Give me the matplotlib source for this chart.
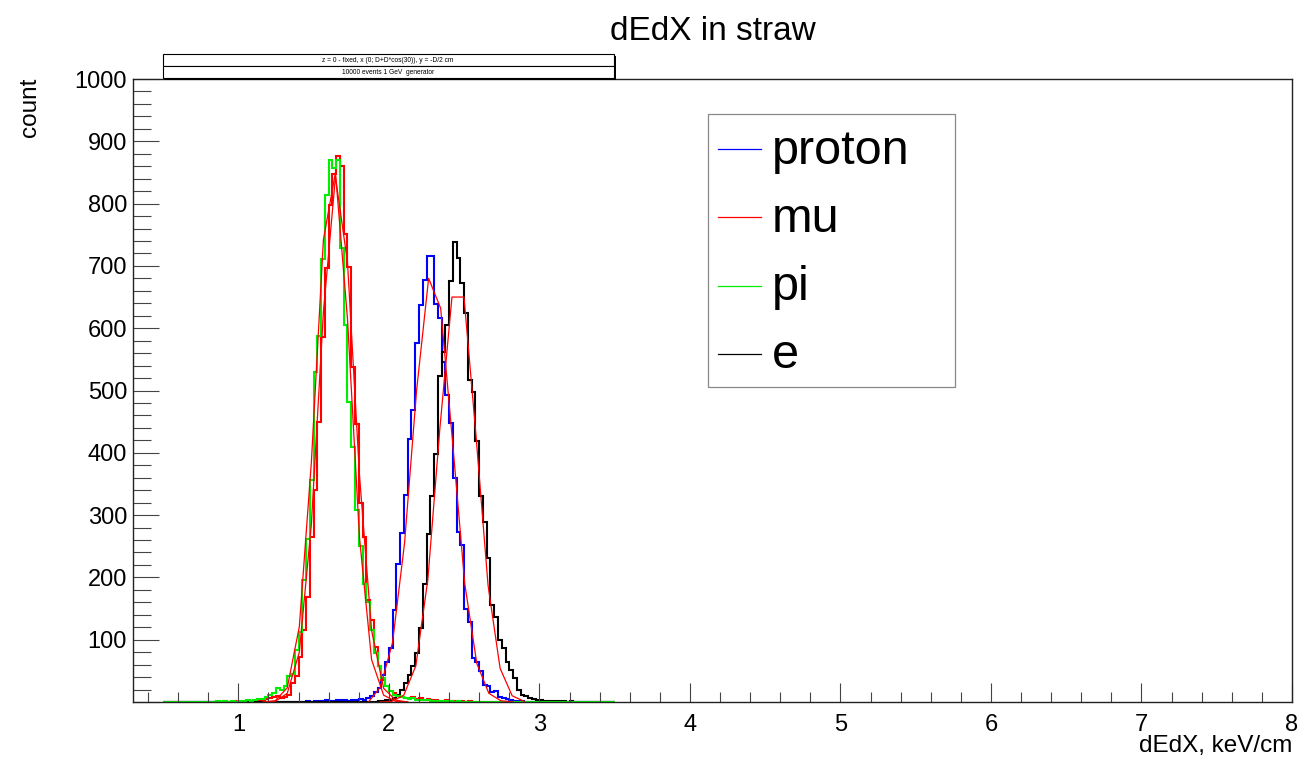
import matplotlib
matplotlib.use("Agg")
import matplotlib.pyplot as plt
import numpy as np
from matplotlib.patches import Rectangle
from matplotlib.lines import Line2D
from matplotlib.ticker import FixedLocator, MultipleLocator

plt.rcParams['font.family'] = ['Liberation Sans', 'DejaVu Sans']

# histogram binning (keV/cm)
bin_width = 0.025
edges = np.round(np.arange(0.5, 3.5 + bin_width / 2, bin_width), 4)

# counts per bin; each list starts at its *_start edge
proton_start = 1.45
proton_counts = [1, 0, 1, 2, 1, 3, 2, 2, 3, 4,
                 3, 2, 3, 4, 5, 4, 6, 10, 16, 23,
                 43, 65, 87, 148, 221, 271, 332, 422, 468, 576,
                 638, 677, 716, 716, 639, 616, 546, 493, 448, 359,
                 273, 252, 150, 129, 70, 65, 49, 27, 25, 16,
                 18, 8, 6, 5, 3, 2, 1, 1]

mu_start = 0.9
mu_counts = [1, 0, 0, 1, 0, 1, 1, 2, 2, 3,
             4, 5, 6, 8, 10, 6, 8, 12, 30, 41,
             73, 116, 169, 265, 340, 450, 586, 696, 798, 848,
             877, 861, 752, 699, 538, 447, 319, 265, 164, 132,
             89, 57, 35, 25, 18, 14, 10, 8, 7, 6,
             8, 5, 6, 4, 5, 3, 4, 2, 2, 3,
             1, 2, 1, 1, 0, 1]

pi_start = 0.85
pi_counts = [1, 0, 2, 0, 1, 0, 2, 1, 3, 2,
             4, 5, 5, 8, 12, 14, 22, 20, 25, 41,
             45, 83, 113, 196, 262, 356, 530, 588, 711, 814,
             870, 857, 870, 728, 605, 482, 410, 308, 250, 190,
             161, 116, 78, 57, 38, 25, 18, 12, 10, 8,
             6, 5, 6, 4, 4, 3, 3, 2, 2, 1,
             2, 1, 1, 0, 1]

e_start = 1.925
e_counts = [1, 2, 3, 4, 6, 11, 19, 30, 43, 57,
            79, 118, 190, 270, 330, 398, 524, 561, 605, 676,
            739, 712, 672, 625, 517, 497, 419, 330, 289, 231,
            156, 137, 100, 86, 65, 51, 38, 19, 11, 9,
            6, 5, 3, 4, 2, 2, 1, 2, 1, 1,
            0, 1]

# gaussian fit curves as drawn (polyline vertices)
proton_fit_x = [1.864, 1.944, 2.024, 2.104, 2.184, 2.264, 2.344, 2.424, 2.504, 2.584, 2.664, 2.744, 2.824]
proton_fit_y = [0, 24, 95, 255, 500, 680, 632, 415, 190, 62, 14, 2, 0]

mu_fit_x = [1.165, 1.245, 1.325, 1.405, 1.485, 1.565, 1.645, 1.725, 1.805, 1.885, 1.965, 2.045, 2.125]
mu_fit_y = [0, 1, 14, 80, 285, 626, 843, 706, 363, 115, 22, 3, 0]

pi_fit_x = [1.165, 1.245, 1.325, 1.405, 1.485, 1.565, 1.645, 1.725, 1.805, 1.885, 1.965, 2.045, 2.125]
pi_fit_y = [0, 2, 23, 121, 385, 742, 850, 615, 263, 68, 11, 1, 0]

e_fit_x = [1.939, 2.019, 2.099, 2.179, 2.259, 2.339, 2.419, 2.499, 2.579, 2.659, 2.739, 2.819, 2.899]
e_fit_y = [0, 1, 11, 58, 197, 440, 650, 650, 427, 187, 54, 10, 1]

labels = ['proton', 'mu', 'pi', 'e']
colors = ['#0000ff', '#ff0000', '#00ee00', '#000000']


def full_hist(start, counts):
    h = np.zeros(len(edges) - 1)
    i0 = int(round((start - edges[0]) / bin_width))
    h[i0:i0 + len(counts)] = counts
    return h


W, H = 1312, 771


def fx(px):
    return px / W


def fy(py):
    return 1 - py / H


fig = plt.figure(figsize=(W / 100, H / 100), dpi=100)
ax = fig.add_axes([fx(133), fy(702), fx(1292) - fx(133), fy(79) - fy(702)])

hists = [(proton_start, proton_counts), (mu_start, mu_counts),
         (pi_start, pi_counts), (e_start, e_counts)]
fits = [(proton_fit_x, proton_fit_y), (mu_fit_x, mu_fit_y),
        (pi_fit_x, pi_fit_y), (e_fit_x, e_fit_y)]

# draw order: proton, mu, e, pi (pi last so its flat tail lies on top)
for i in [0, 1, 3, 2]:
    start, counts = hists[i]
    fit_x, fit_y = fits[i]
    ax.stairs(full_hist(start, counts), edges, color=colors[i], lw=1.5, baseline=None)
    ax.plot(fit_x, fit_y, color='#ff0000', lw=0.9)

ax.set_xlim(0.3, 8)
ax.set_ylim(0, 1000)

ax.xaxis.set_major_locator(FixedLocator(range(1, 9)))
ax.xaxis.set_minor_locator(MultipleLocator(0.2))
ax.yaxis.set_major_locator(MultipleLocator(100))
ax.yaxis.set_minor_locator(MultipleLocator(20))
ax.set_yticklabels(['' if v == 0 else str(int(v)) for v in ax.get_yticks()])

ax.tick_params(which='both', direction='in', top=False, right=False,
               color='#444444', width=0.8)
ax.tick_params(axis='x', which='major', length=13.7, labelsize=17, pad=8.5)
ax.tick_params(axis='x', which='minor', length=7.2)
ax.tick_params(axis='y', which='major', length=18.7, labelsize=17, pad=4.3)
ax.tick_params(axis='y', which='minor', length=13)
for sp in ax.spines.values():
    sp.set_linewidth(1.0)
    sp.set_color('#222222')

fig.text(fx(712.5), fy(40), 'dEdX in straw', ha='center', va='baseline', fontsize=24)
fig.text(fx(30), fy(78), 'count', rotation=90, ha='center', va='top', fontsize=17.5)
fig.text(fx(1292), fy(752), 'dEdX, keV/cm', ha='right', va='baseline', fontsize=17.5)

# info boxes top left
info_lines = ['z = 0 - fixed, x (0; D+D*cos(30)), y = -D/2 cm', '10000 events 1 GeV  generator']
for k, txt in enumerate(info_lines):
    top = 54 + 12 * k
    shadow = Rectangle((fx(165), fy(top + 14)), fx(451), fy(top) - fy(top + 12),
                       transform=fig.transFigure, facecolor='black', edgecolor='none')
    box = Rectangle((fx(163), fy(top + 12)), fx(451), fy(top) - fy(top + 12),
                    transform=fig.transFigure, facecolor='white', edgecolor='black', lw=0.8)
    fig.add_artist(shadow)
    fig.add_artist(box)
    fig.text(fx(388), fy(top + 6), txt, ha='center', va='center', fontsize=4.8)

# legend
leg = Rectangle((fx(708), fy(387)), fx(955) - fx(708), fy(114) - fy(387),
                transform=fig.transFigure, facecolor='white', edgecolor='#888888', lw=0.9)
fig.add_artist(leg)
for k, (lab, col) in enumerate(zip(labels, colors)):
    ly = 149 + 68.3 * k
    fig.add_artist(Line2D([fx(718), fx(761)], [fy(ly), fy(ly)], transform=fig.transFigure,
                          color=col, lw=0.9))
    fig.text(fx(772), fy(ly + 14.5), lab, ha='left', va='baseline', fontsize=35)

fig.savefig('out.png', dpi=100)
